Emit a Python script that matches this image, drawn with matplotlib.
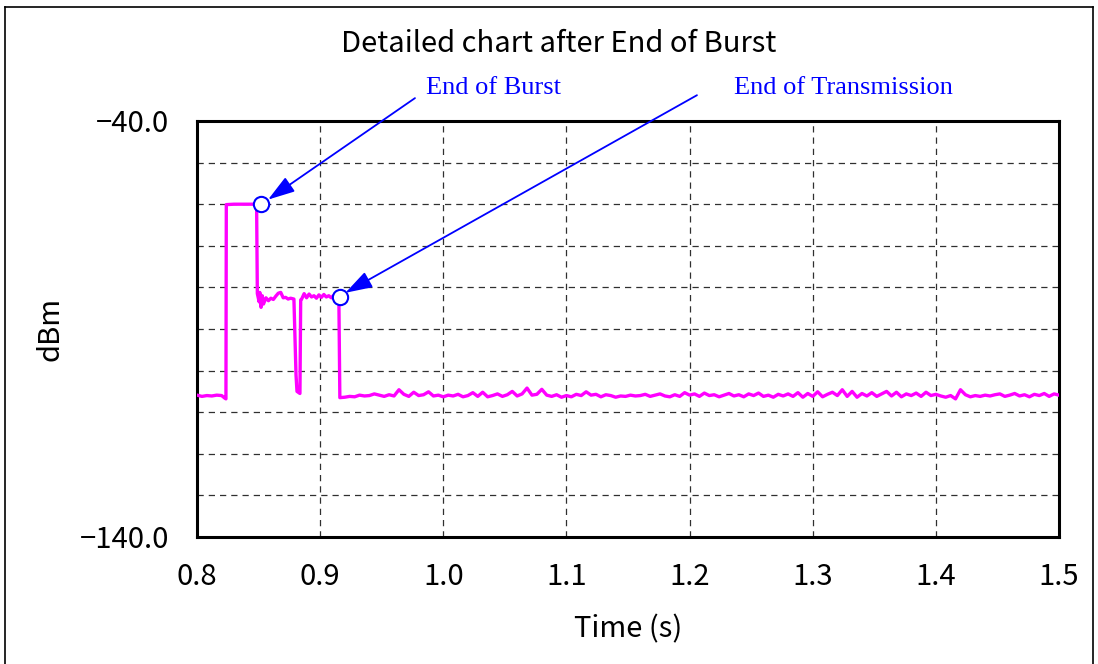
import numpy as np
import matplotlib
matplotlib.use("Agg")
import matplotlib.pyplot as plt
from matplotlib.lines import Line2D

# ---- data ----
pre_t = [0.800, 0.804, 0.808, 0.812, 0.816, 0.820, 0.8225, 0.8235]
pre_v = [-105.9, -106.2, -106.0, -106.1, -105.9, -106.0, -106.6, -106.8]

burst_t = [0.8238, 0.8300, 0.8400, 0.8484]
burst_v = [-60.1, -60.0, -60.0, -60.0]

plat1_t = [0.8490, 0.8505, 0.8510, 0.8520, 0.8530, 0.8540, 0.8560, 0.8580, 0.8600,
           0.8620, 0.8640, 0.8660, 0.8680, 0.8700, 0.8720, 0.8740, 0.8760, 0.8787]
plat1_v = [-81.5, -83.5, -81.2, -84.8, -82.0, -84.0, -82.5, -83.2, -82.6,
           -82.9, -82.1, -81.4, -81.2, -82.5, -82.4, -82.8, -82.6, -82.8]

dip_t = [0.8804, 0.8812, 0.8836]
dip_v = [-101.0, -105.0, -105.5]

plat2_t = [0.8842, 0.8850, 0.8870, 0.8890, 0.8910, 0.8930, 0.8950, 0.8970, 0.8990,
           0.9010, 0.9030, 0.9050, 0.9070, 0.9090, 0.9110, 0.9130, 0.9152]
plat2_v = [-83.0, -82.8, -81.5, -82.5, -81.6, -82.3, -82.0, -82.6, -81.8,
           -82.4, -81.7, -82.3, -82.0, -82.5, -81.9, -82.4, -82.5]

post_start = 0.916
post_first = -106.5
post_step = 0.004
post_v = [
    -106.4, -106.2, -106.3, -105.9, -106.1, -106.0, -105.6, -105.9, -106.2, -105.8,
    -106.1, -104.6, -105.7, -106.2, -105.2, -106.0, -105.8, -105.1, -106.1, -105.9,
    -106.3, -105.9, -106.1, -105.7, -106.3, -106.0, -105.3, -106.2, -105.2, -106.3,
    -106.0, -105.6, -106.2, -105.8, -105.0, -106.1, -105.6, -104.2, -105.9, -105.7,
    -104.5, -105.9, -106.2, -105.8, -106.4, -106.0, -106.3, -105.7, -106.0, -105.1,
    -105.9, -105.7, -106.3, -105.8, -106.0, -106.4, -106.1, -106.2, -105.9, -106.1,
    -106.0, -105.7, -106.2, -105.9, -105.6, -106.1, -106.3, -105.8, -106.2, -105.3,
    -105.9, -105.6, -106.2, -105.4, -106.0, -105.8, -106.3, -105.9, -105.5, -106.1,
    -105.8, -106.3, -105.6, -106.0, -105.4, -106.2, -105.9, -106.4, -105.7, -106.1,
    -105.6, -106.2, -105.3, -106.4, -105.5, -106.2, -105.1, -106.3, -105.7, -105.2,
    -106.0, -104.6, -106.2, -105.0, -106.4, -105.5, -106.1, -105.3, -106.2, -105.6,
    -105.0, -106.1, -105.2, -106.3, -105.6, -106.0, -105.4, -106.2, -105.2, -106.0,
    -105.7, -106.1, -106.4, -106.0, -106.8, -104.6, -105.8, -106.3, -106.0, -106.2,
    -105.9, -106.1, -105.8, -105.6, -106.2, -105.9, -105.5, -106.1, -105.8, -106.3,
    -105.7, -106.0, -105.5, -106.2, -105.6, -105.9,
]

markers_t = [0.8520, 0.9165]
markers_v = [-60.0, -82.3]
labels = ["End of Burst", "End of Transmission"]
label_xy = [(0.986, -32.1), (1.236, -32.1)]
arrow_start = [(0.977, -34.5), (1.206, -33.8)]
arrow_tip = [(0.8577, -58.9), (0.9205, -81.3)]

x_ticks = [0.8, 0.9, 1.0, 1.1, 1.2, 1.3, 1.4, 1.5]
x_tick_labels = ["0.8", "0.9", "1.0", "1.1", "1.2", "1.3", "1.4", "1.5"]
y_ticks = list(range(-140, -39, 10))
y_tick_labels = ["\u2212140.0"] + [""] * 9 + ["\u221240.0"]

# ---- assemble trace ----
post_t = [post_start] + [0.920 + post_step * i for i in range(len(post_v))]
post_all = [post_first] + post_v
t = np.array(pre_t + burst_t + plat1_t + dip_t + plat2_t + post_t)
v = np.array(pre_v + burst_v + plat1_v + dip_v + plat2_v + post_all)

sans = ["Noto Sans CJK JP", "DejaVu Sans"]
serif = ["Liberation Serif", "DejaVu Serif"]
FS = 21

fig = plt.figure(figsize=(10.98, 6.64), dpi=100)
ax = fig.add_axes([197 / 1098, 1 - 537 / 664, (1059 - 197) / 1098, (537 - 121) / 664])

ax.plot(t, v, color="#FF00FF", lw=2.4, zorder=3)
ax.plot(markers_t, markers_v, "o", ms=11, mfc="white", mec="#0000FF", mew=1.5, zorder=5,
        clip_on=False)

ax.set_xlim(0.8, 1.5)
ax.set_ylim(-140, -40)
ax.set_xticks(x_ticks)
ax.set_xticklabels(x_tick_labels, family=sans, fontsize=FS)
ax.set_yticks(y_ticks)
ax.set_yticklabels(y_tick_labels, family=sans, fontsize=FS)
ax.tick_params(axis="both", length=0)
ax.tick_params(axis="x", pad=18)
ax.tick_params(axis="y", pad=20)
ax.grid(True, color="#303030", lw=0.9, linestyle=(0, (5, 4)))
for s in ax.spines.values():
    s.set_linewidth(2.2)
    s.set_color("black")

ax.set_xlabel("Time (s)", family=sans, fontsize=FS, labelpad=16)
ax.set_ylabel("dBm", family=sans, fontsize=FS, labelpad=10)
fig.text(559 / 1098, 1 - 44 / 664, "Detailed chart after End of Burst", family=sans,
         fontsize=FS, ha="center", va="center")

for lab, (lx, ly), (sx, sy), (tx, ty) in zip(labels, label_xy, arrow_start, arrow_tip):
    ax.text(lx, ly, lab, family=serif, fontsize=19, color="#0000FF",
            ha="left", va="center", clip_on=False)
    ax.annotate("", xy=(tx, ty), xytext=(sx, sy), annotation_clip=False,
                arrowprops=dict(arrowstyle="-|>,head_length=1.1,head_width=0.35",
                                color="#0000FF", lw=1.3, mutation_scale=15,
                                shrinkA=0, shrinkB=0))

# figure frame
fig.add_artist(Line2D([5 / 1098, 5 / 1098], [0, 1 - 7 / 664], transform=fig.transFigure,
                      color="black", lw=1.2))
fig.add_artist(Line2D([5 / 1098, 1093 / 1098], [1 - 7 / 664, 1 - 7 / 664],
                      transform=fig.transFigure, color="black", lw=1.2))
fig.add_artist(Line2D([1093 / 1098, 1093 / 1098], [0, 1 - 7 / 664], transform=fig.transFigure,
                      color="black", lw=1.2))

fig.savefig("out.png", dpi=100)
